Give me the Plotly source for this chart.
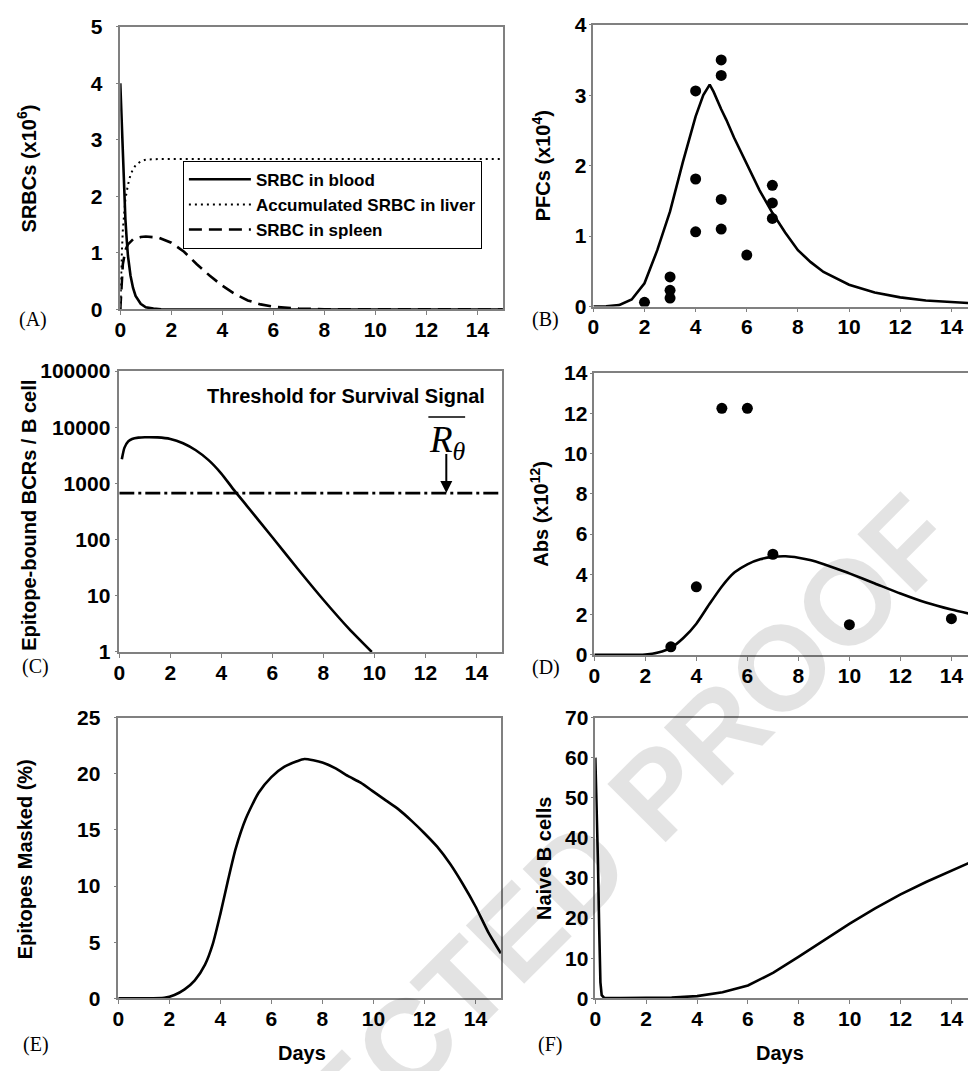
import plotly.graph_objects as go

W, H = 968, 1071

# ---------------- data ----------------
# (A) SRBCs (x10^6)
a_blood_t = [0, 0.05, 0.1, 0.15, 0.2, 0.25, 0.3, 0.4, 0.5, 0.6, 0.8, 1.0, 1.3, 1.6, 2.0, 3.0, 15]
a_blood_v = [4.0, 3.3, 2.7, 2.1, 1.6, 1.25, 0.95, 0.6, 0.38, 0.24, 0.1, 0.04, 0.015, 0.005, 0.002, 0, 0]
a_liver_t = [0, 0.03, 0.06, 0.1, 0.15, 0.2, 0.3, 0.4, 0.5, 0.6, 0.8, 1.0, 1.5, 15]
a_liver_v = [0, 0.6, 1.0, 1.4, 1.75, 1.95, 2.2, 2.38, 2.48, 2.55, 2.62, 2.65, 2.66, 2.66]
a_spleen_t = [0, 0.05, 0.1, 0.2, 0.3, 0.5, 0.8, 1.0, 1.5, 2.0, 2.5, 3.0, 3.5, 4.0, 4.5, 5.0, 5.5, 6.0, 7, 8, 10, 15]
a_spleen_v = [0, 0.5, 0.8, 1.05, 1.15, 1.24, 1.28, 1.29, 1.27, 1.18, 1.02, 0.8, 0.6, 0.42, 0.27, 0.16, 0.09, 0.05, 0.015, 0.005, 0.001, 0]

# (B) PFCs (x10^4)
b_model_t = [0, 0.5, 1, 1.5, 2, 2.5, 3, 3.5, 4, 4.3, 4.55, 4.7, 5, 5.2, 5.5, 6, 6.5, 7, 7.5, 8, 8.5, 9, 10, 11, 12, 13, 14, 14.7]
b_model_v = [0, 0.003, 0.02, 0.1, 0.33, 0.8, 1.35, 2.05, 2.7, 3.0, 3.15, 3.05, 2.8, 2.65, 2.4, 2.02, 1.65, 1.33, 1.05, 0.8, 0.63, 0.49, 0.31, 0.2, 0.13, 0.085, 0.06, 0.05]
b_obs_t = [2, 3, 3, 3, 4, 4, 4, 5, 5, 5, 5, 6, 7, 7, 7]
b_obs_v = [0.06, 0.42, 0.23, 0.12, 3.06, 1.81, 1.06, 3.5, 3.28, 1.52, 1.10, 0.73, 1.72, 1.47, 1.25]

# (C) Epitope-bound BCRs / B cell
c_t = [0.1, 0.2, 0.35, 0.5, 0.75, 1.0, 1.5, 2.0, 2.5, 3.0, 3.5, 4.0, 4.5, 5.0, 6, 7, 8, 9, 9.9]
c_v = [2700, 4300, 5600, 6200, 6550, 6650, 6600, 6200, 5200, 3900, 2600, 1500, 760, 400, 110, 30, 8.5, 2.6, 1.0]
c_thr_t = [0, 15]
c_thr_v = [672, 672]

# (D) Abs (x10^12)
d_model_t = [0, 1, 2, 2.5, 3, 3.5, 4, 4.5, 5, 5.5, 6, 6.5, 7, 7.5, 8, 8.5, 9, 9.5, 10, 11, 12, 13, 14, 14.7]
d_model_v = [0, 0, 0.02, 0.12, 0.35, 0.85, 1.55, 2.5, 3.4, 4.1, 4.5, 4.75, 4.87, 4.9, 4.83, 4.7, 4.5, 4.28, 4.05, 3.55, 3.05, 2.6, 2.25, 2.05]
d_obs_t = [3, 4, 5, 6, 7, 10, 14]
d_obs_v = [0.4, 3.38, 12.25, 12.25, 5.0, 1.5, 1.8]

# (E) Epitopes Masked (%)
e_t = [0, 1, 1.8, 2.2, 2.6, 3, 3.4, 3.7, 4, 4.3, 4.6, 5, 5.5, 6, 6.5, 7, 7.3, 8, 8.5, 9, 9.5, 10, 10.5, 11, 11.5, 12, 12.5, 13, 13.5, 14, 14.5, 15]
e_v = [0, 0, 0.05, 0.3, 0.8, 1.6, 3.0, 4.8, 7.5, 10.5, 13.3, 16.0, 18.3, 19.7, 20.6, 21.1, 21.3, 21.0, 20.5, 19.8, 19.2, 18.4, 17.6, 16.8, 15.8, 14.7, 13.5, 12.0, 10.2, 8.2, 5.9, 4.0]

# (F) Naive B cells
f_t = [0, 0.05, 0.1, 0.15, 0.2, 0.25, 0.35, 1, 2, 3, 4, 5, 6, 7, 8, 9, 10, 11, 12, 13, 14, 14.7]
f_v = [60, 50, 35, 18, 4, 0.8, 0.1, 0.05, 0.08, 0.2, 0.55, 1.5, 3.2, 6.4, 10.4, 14.6, 18.6, 22.4, 25.9, 29.0, 31.9, 33.8]

x_ticks = [0, 2, 4, 6, 8, 10, 12, 14]

# ---------------- layout helpers ----------------
FONT = "Liberation Sans, Arial, sans-serif"
SERIF = "Liberation Serif, Times New Roman, serif"
FRAME = "#808080"

def px_x(x):
    return x / W

def px_y(y):
    return 1 - y / H

# panel boxes in pixels: (left, top, right, bottom)
boxes = {
    "A": (115, 15, 500, 304),
    "B": (591, 13, 968, 301),
    "C": (114, 367, 499, 654),
    "D": (592, 369, 968, 657),
    "E": (113, 721, 498, 1008),
    "F": (593, 721, 968, 1008),
}

fig = go.Figure()

line_style = dict(color="black", width=2.6)
smooth_style = dict(color="black", width=2.6, shape="spline", smoothing=0.6)
marker_style = dict(color="black", size=11)

# A
fig.add_trace(go.Scatter(x=a_blood_t, y=a_blood_v, mode="lines", name="SRBC in blood",
                         line=line_style, xaxis="x", yaxis="y"))
fig.add_trace(go.Scatter(x=a_liver_t, y=a_liver_v, mode="lines", name="Accumulated SRBC in liver",
                         line=dict(color="black", width=2, dash="2px,4px"), xaxis="x", yaxis="y"))
fig.add_trace(go.Scatter(x=a_spleen_t, y=a_spleen_v, mode="lines", name="SRBC in spleen",
                         line=dict(color="black", width=2.6, dash="13px,7px"), xaxis="x", yaxis="y"))
# B
fig.add_trace(go.Scatter(x=b_model_t, y=b_model_v, mode="lines", line=line_style,
                         xaxis="x2", yaxis="y2", showlegend=False))
fig.add_trace(go.Scatter(x=b_obs_t, y=b_obs_v, mode="markers", marker=marker_style,
                         xaxis="x2", yaxis="y2", showlegend=False))
# C
fig.add_trace(go.Scatter(x=c_t, y=c_v, mode="lines", line=smooth_style,
                         xaxis="x3", yaxis="y3", showlegend=False))
fig.add_trace(go.Scatter(x=c_thr_t, y=c_thr_v, mode="lines",
                         line=dict(color="black", width=2.6, dash="15px,4px,3px,4px"),
                         xaxis="x3", yaxis="y3", showlegend=False))
# D
fig.add_trace(go.Scatter(x=d_model_t, y=d_model_v, mode="lines", line=smooth_style,
                         xaxis="x4", yaxis="y4", showlegend=False))
fig.add_trace(go.Scatter(x=d_obs_t, y=d_obs_v, mode="markers", marker=marker_style,
                         xaxis="x4", yaxis="y4", showlegend=False))
# E
fig.add_trace(go.Scatter(x=e_t, y=e_v, mode="lines", line=smooth_style,
                         xaxis="x5", yaxis="y5", showlegend=False))
# F
fig.add_trace(go.Scatter(x=f_t, y=f_v, mode="lines", line=line_style,
                         xaxis="x6", yaxis="y6", showlegend=False))

tickfont = dict(family=FONT, size=21, color="black", weight="bold")

def xaxis_cfg(key, anchor, xmax):
    l, t, r, b = boxes[key]
    return dict(domain=[px_x(l), px_x(r)], anchor=anchor, range=[0, xmax],
                tickvals=x_ticks, ticks="outside", ticklen=4, tickcolor=FRAME, tickwidth=1,
                showline=True, linecolor=FRAME, linewidth=1.5, mirror=True,
                showgrid=False, zeroline=False, tickfont=tickfont, ticklabelstandoff=-3)

def yaxis_cfg(key, anchor, rng, mirror, standoff, **kw):
    l, t, r, b = boxes[key]
    d = dict(domain=[px_y(b), px_y(t)], anchor=anchor, range=rng,
             ticks="outside", ticklen=3, tickcolor=FRAME, tickwidth=1,
             showline=True, linecolor=FRAME, linewidth=1.5, mirror=mirror,
             showgrid=False, zeroline=False, tickfont=tickfont, ticklabelstandoff=standoff)
    d.update(kw)
    return d

right_max = 14.65
layout = dict(
    width=W, height=H, autosize=False,
    margin=dict(l=0, r=0, t=0, b=0),
    paper_bgcolor="white", plot_bgcolor="white",
    xaxis=xaxis_cfg("A", "y", 15),
    yaxis=yaxis_cfg("A", "x", [0, 5], True, 9, tickvals=[0, 1, 2, 3, 4, 5]),
    xaxis2=xaxis_cfg("B", "y2", right_max),
    yaxis2=yaxis_cfg("B", "x2", [0, 4], False, -2, tickvals=[0, 1, 2, 3, 4]),
    xaxis3=xaxis_cfg("C", "y3", 15),
    yaxis3=yaxis_cfg("C", "x3", [0, 5], True, 0, type="log",
                     tickvals=[1, 10, 100, 1000, 10000, 100000],
                     ticktext=["1", "10", "100", "1000", "10000", "100000"]),
    xaxis4=xaxis_cfg("D", "y4", right_max),
    yaxis4=yaxis_cfg("D", "x4", [0, 14], False, -2, tickvals=[0, 2, 4, 6, 8, 10, 12, 14]),
    xaxis5=xaxis_cfg("E", "y5", 15),
    yaxis5=yaxis_cfg("E", "x5", [0, 25], True, 9, tickvals=[0, 5, 10, 15, 20, 25]),
    xaxis6=xaxis_cfg("F", "y6", right_max),
    yaxis6=yaxis_cfg("F", "x6", [0, 70], False, -2, tickvals=[0, 10, 20, 30, 40, 50, 60, 70]),
    legend=dict(x=px_x(178), y=px_y(152), xanchor="left", yanchor="top",
                bordercolor="black", borderwidth=1, bgcolor="white",
                font=dict(family=FONT, size=17, color="black", weight="bold"),
                tracegroupgap=0, itemwidth=62),
    showlegend=True,
)
fig.update_layout(**layout)

annotations = []

def paper_text(text, x, y, size=20, family=FONT, bold=True, angle=0, xanchor="center", yanchor="middle"):
    f = dict(family=family, size=size, color="black")
    if bold:
        f["weight"] = "bold"
    annotations.append(dict(text=text, x=px_x(x), y=px_y(y), xref="paper", yref="paper",
                            showarrow=False, font=f, textangle=angle,
                            xanchor=xanchor, yanchor=yanchor))

# watermark (drawn first, translucent so the black marks stay black)
annotations.append(dict(text="CORRECTED PROOF", x=px_x(498), y=px_y(957), xref="paper", yref="paper",
                        showarrow=False, textangle=-45, xanchor="center", yanchor="middle",
                        font=dict(family=FONT, size=120, color="rgba(0,0,0,0.11)", weight="bold")))

# y-axis titles
paper_text("SRBCs (x10<sup>6</sup>)", 21, 160, angle=-90)
paper_text("PFCs (x10<sup>4</sup>)", 539, 157, angle=-90)
paper_text("Epitope-bound BCRs / B cell", 23, 514, angle=-90)
paper_text("Abs (x10<sup>12</sup>)", 537, 513, angle=-90)
paper_text("Epitopes Masked (%)", 20, 866, angle=-90)
paper_text("Naive B cells", 542, 865, angle=-90)
# x-axis titles
paper_text("Days", 298, 1064)
paper_text("Days", 779, 1064)
# panel labels
for lab, x, y in [("(A)", 27, 314), ("(B)", 543, 314), ("(C)", 30, 669),
                  ("(D)", 543, 670), ("(E)", 30, 1055), ("(F)", 547, 1055)]:
    paper_text(lab, x, y, size=20, family=SERIF, bold=False)

# panel C annotations
paper_text("Threshold for Survival Signal", 484, 392, size=20, xanchor="right")
annotations.append(dict(text="<i>R</i><sub><i>θ</i></sub>", x=px_x(424), y=px_y(440),
                        xref="paper", yref="paper", showarrow=False, xanchor="left",
                        yanchor="middle", font=dict(family=SERIF, size=37, color="black")))
annotations.append(dict(text="", x=12.82, y=2.83, xref="x3", yref="y3",
                        ax=12.82, ay=2.83 + 0.72, axref="x3", ayref="y3",
                        showarrow=True, arrowhead=2, arrowsize=1.2, arrowwidth=2,
                        arrowcolor="black"))

fig.update_layout(annotations=annotations)

# overline of R-theta
fig.add_shape(type="line", xref="paper", yref="paper",
              x0=px_x(425), x1=px_x(462), y0=px_y(414), y1=px_y(414),
              line=dict(color="black", width=1.5))

fig.write_html("out.html")
